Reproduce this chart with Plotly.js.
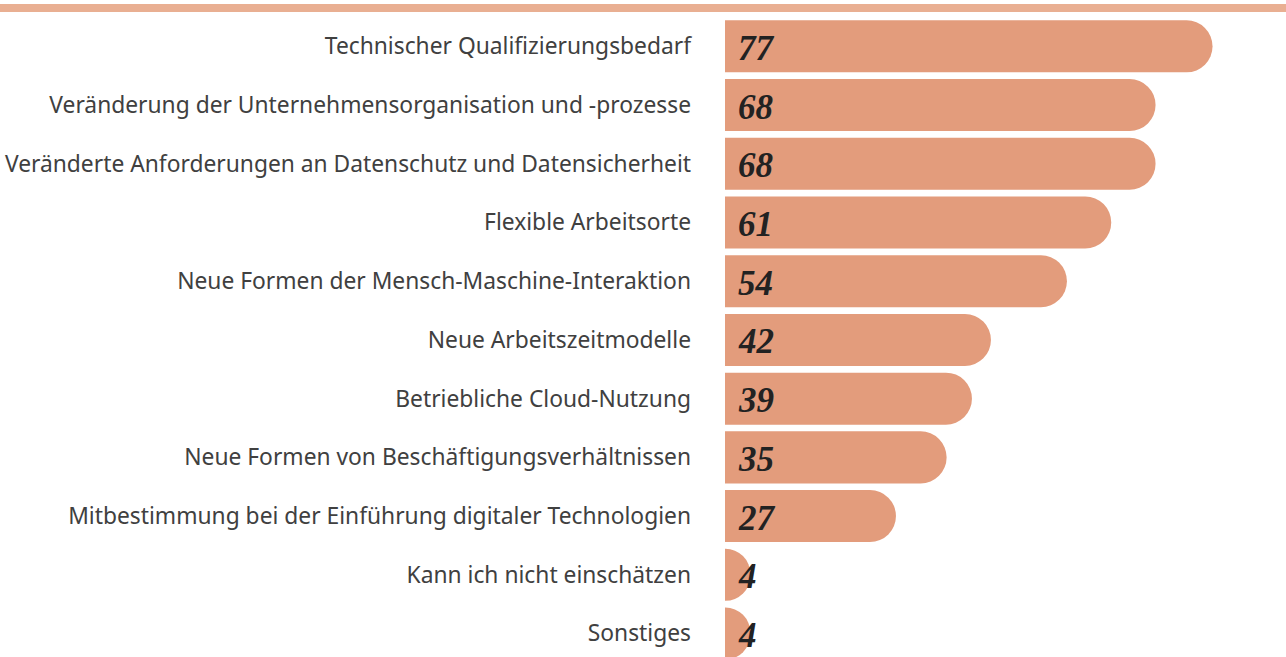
<!DOCTYPE html>
<html><head><meta charset="utf-8">
<script src="https://cdn.plot.ly/plotly-3.0.1.min.js"></script>
<style>html,body{margin:0;padding:0;background:#fff;}#chart{width:1286px;height:657px;}</style>
</head><body><div id="chart"></div>
<script>
const categories = [
  "Technischer Qualifizierungsbedarf",
  "Veränderung der Unternehmensorganisation und -prozesse",
  "Veränderte Anforderungen an Datenschutz und Datensicherheit",
  "Flexible Arbeitsorte",
  "Neue Formen der Mensch-Maschine-Interaktion",
  "Neue Arbeitszeitmodelle",
  "Betriebliche Cloud-Nutzung",
  "Neue Formen von Beschäftigungsverhältnissen",
  "Mitbestimmung bei der Einführung digitaler Technologien",
  "Kann ich nicht einschätzen",
  "Sonstiges"
];
const values = [77, 68, 68, 61, 54, 42, 39, 35, 27, 4, 4];

const barColor = "#E39C7C";
const annotations = values.map((v, i) => ({
  x: 0, y: categories[i], xref: "x", yref: "y",
  text: String(v), showarrow: false, xanchor: "left", xshift: 11, yshift: -2,
  font: {family: "Liberation Serif", size: 35, color: "#222222", weight: "bold", style: "italic"}
}));

const data = [{
  type: "bar", orientation: "h",
  x: values, y: categories,
  marker: {color: barColor, cornerradius: 26},
  hoverinfo: "none"
}];

const layout = {
  width: 1286, height: 657,
  margin: {l: 725, r: 0, t: 17, b: 0},
  paper_bgcolor: "#ffffff", plot_bgcolor: "#ffffff",
  bargap: 0.114,
  showlegend: false,
  xaxis: {range: [0, 88.6], visible: false, fixedrange: true},
  yaxis: {
    type: "category", range: [10.4, -0.5], showgrid: false, zeroline: false,
    showline: false, ticks: "", ticklabelstandoff: 33,
    tickfont: {family: "Noto Sans", size: 22.8, color: "#404040"}
  },
  annotations: annotations,
  shapes: [{type: "line", xref: "paper", yref: "paper", ysizemode: "pixel", yanchor: 1,
    x0: -1.4, x1: 1.1, y0: 9, y1: 9, line: {color: "#E9AF92", width: 8}}]
};

Plotly.newPlot("chart", data, layout, {displayModeBar: false, staticPlot: true});
</script></body></html>
